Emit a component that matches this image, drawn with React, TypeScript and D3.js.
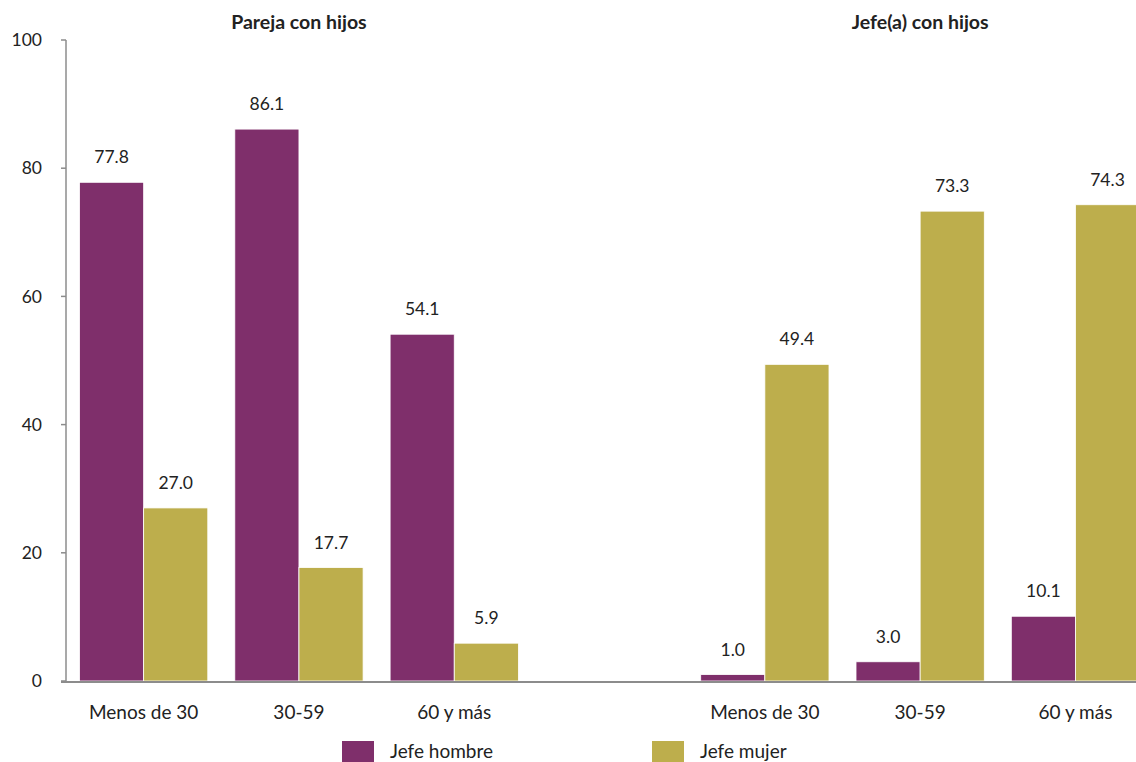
import React from "react";
import * as d3 from "d3";

const panels = ["Pareja con hijos", "Jefe(a) con hijos"];
const ageGroups = ["Menos de 30", "30-59", "60 y más"];
const series = ["Jefe hombre", "Jefe mujer"];
const parejaHombre = [77.8, 86.1, 54.1];
const parejaMujer = [27.0, 17.7, 5.9];
const jefeHombre = [1.0, 3.0, 10.1];
const jefeMujer = [49.4, 73.3, 74.3];
const yTicks = [0, 20, 40, 60, 80, 100];

const colors = ["#7f2f6b", "#bdae4c"];
const FONT = "Lato, 'Open Sans', sans-serif";

export default function App() {
  const W = 1136, H = 762;
  const x0 = 66, yTop = 40, yBot = 681;
  const slots = ["p0", "p1", "p2", "gap", "j0", "j1", "j2"];
  const x = d3.scaleBand<string>().domain(slots).range([x0, x0 + 7 * 155.3]).paddingInner(0.174).paddingOuter(0.087);
  const y = d3.scaleLinear().domain([0, 100]).range([yBot, yTop]);
  const xs = d3.scaleBand<string>().domain(series).range([0, x.bandwidth()]);

  const groups = [
    ...ageGroups.map((a, i) => ({ key: "p" + i, label: a, vals: [parejaHombre[i], parejaMujer[i]] })),
    ...ageGroups.map((a, i) => ({ key: "j" + i, label: a, vals: [jefeHombre[i], jefeMujer[i]] })),
  ];
  const fmt = d3.format(".1f");

  return (
    <svg width={W} height={H} style={{ position: "absolute", left: 0, top: 0, background: "#fff" }} fontFamily={FONT}>
      {/* y axis */}
      <line x1={x0} x2={x0} y1={yTop} y2={yBot} stroke="#8c8c8c" strokeWidth={1.5} />
      {yTicks.map((t) => (
        <g key={t}>
          <line x1={x0 - 5} x2={x0} y1={y(t)} y2={y(t)} stroke="#8c8c8c" strokeWidth={1.5} />
          <text x={42} y={y(t)} dy="0.35em" textAnchor="end" fontSize={17.5} fill="#222">{t}</text>
        </g>
      ))}
      {/* bars */}
      {groups.map((g) => (
        <g key={g.key} transform={`translate(${x(g.key)},0)`}>
          {g.vals.map((v, si) => (
            <g key={si}>
              <rect x={xs(series[si])} y={y(v)} width={xs.bandwidth()} height={y(0) - y(v)} fill={colors[si]} stroke="#fff" strokeWidth={0.8} />
              <text x={(xs(series[si]) as number) + xs.bandwidth() / 2} y={y(v) - 19} textAnchor="middle" fontSize={17.5} fill="#222">{fmt(v)}</text>
            </g>
          ))}
          <text x={x.bandwidth() / 2} y={719} textAnchor="middle" fontSize={19} fill="#222">{g.label}</text>
        </g>
      ))}
      {/* x axis */}
      <line x1={x0 - 5} x2={W} y1={yBot + 1} y2={yBot + 1} stroke="#8c8c8c" strokeWidth={2} />
      {/* panel titles */}
      {panels.map((p, i) => (
        <text key={p} x={(x(i === 0 ? "p1" : "j1") as number) + x.bandwidth() / 2} y={29} textAnchor="middle" fontSize={19.5} fontWeight="bold" fill="#222">{p}</text>
      ))}
      {/* legend */}
      {series.map((s, i) => (
        <g key={s} transform={`translate(${i === 0 ? 342 : 652},741)`}>
          <rect x={0} y={0} width={32} height={24} fill={colors[i]} />
          <text x={48} y={17} fontSize={19} fill="#222">{s}</text>
        </g>
      ))}
    </svg>
  );
}
